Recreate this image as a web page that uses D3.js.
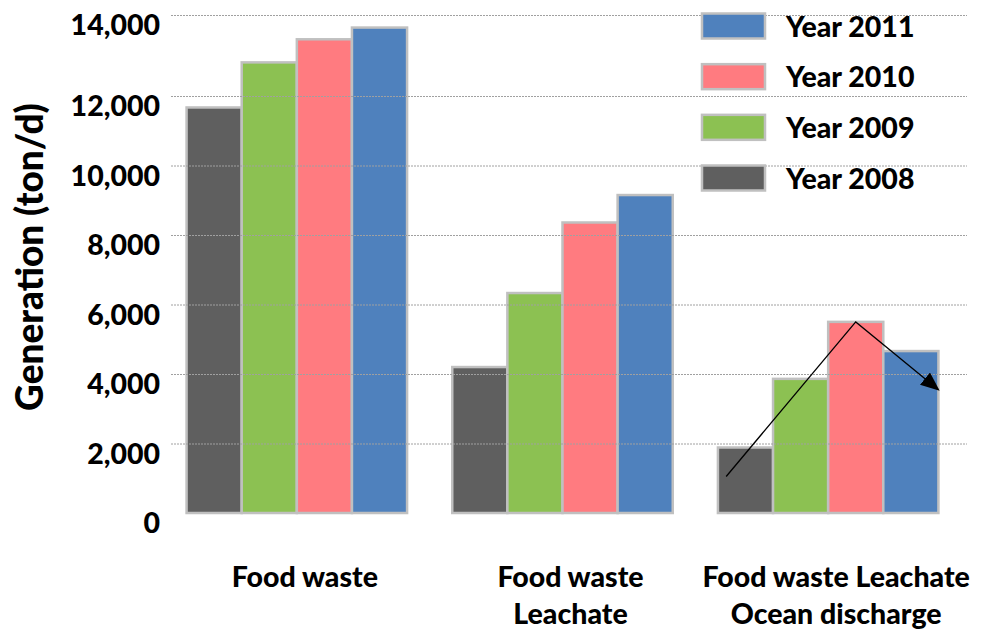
<!DOCTYPE html>
<html>
<head>
<meta charset="utf-8">
<script src="https://cdn.jsdelivr.net/npm/d3@7"></script>
<style>
  html, body { margin: 0; padding: 0; background: #ffffff; }
  svg { display: block; font-family: Lato, "Open Sans", sans-serif; font-weight: 900; }
</style>
</head>
<body>
<svg id="chart" width="984" height="629"></svg>
<script>
// ---- data ----
const categories = ["Food waste", "Food waste\nLeachate", "Food waste Leachate\nOcean discharge"];
const years = ["2008", "2009", "2010", "2011"];
const year2008 = [11670, 4200, 1885];
const year2009 = [12830, 6330, 3860];
const year2010 = [13400, 8360, 5500];
const year2011 = [13690, 9150, 4660];
const yTicks = [0, 2000, 4000, 6000, 8000, 10000, 12000, 14000];
const legendOrder = ["2011", "2010", "2009", "2008"];
// trend arrow on the third category: [year, fraction across the bar, value]
const arrowPts = [["2008", 0.15, 1050], ["2010", 0.5, 5500], ["2011", 1.0, 3550]];

const seriesValues = { "2008": year2008, "2009": year2009, "2010": year2010, "2011": year2011 };
const colors = { "2008": "#5f5f5f", "2009": "#8cc152", "2010": "#ff7b80", "2011": "#4f81bd" };

const svg = d3.select("#chart");
const FS = 28.5;

// ---- scales ----
const plotLeft = 171, plotRight = 967;
const x0 = d3.scaleBand().domain(categories).range([164, 961]).paddingInner(0.17).paddingOuter(0.085);
const x1 = d3.scaleBand().domain(years).range([0, x0.bandwidth()]).padding(0);
const y = d3.scaleLinear().domain([0, 12000, 14000]).range([513, 96, 15]);

// ---- bars ----
const rows = [];
categories.forEach((c, i) => years.forEach(yr => rows.push({ cat: c, year: yr, value: seriesValues[yr][i] })));

svg.append("g").selectAll("rect").data(rows).join("rect")
  .attr("x", d => x0(d.cat) + x1(d.year))
  .attr("y", d => y(d.value))
  .attr("width", x1.bandwidth())
  .attr("height", d => y(0) - y(d.value))
  .attr("fill", d => colors[d.year])
  .attr("stroke", "#c0c0c0")
  .attr("stroke-width", 2.5);

// ---- gridlines (drawn over bars) ----
svg.append("g").selectAll("line").data(yTicks.filter(t => t > 0)).join("line")
  .attr("x1", plotLeft).attr("x2", plotRight)
  .attr("y1", d => y(d) + 0.5).attr("y2", d => y(d) + 0.5)
  .attr("stroke", "#a0a0a0").attr("stroke-width", 1).attr("stroke-dasharray", "2,1");

// ---- y axis labels ----
const fmt = d3.format(",");
svg.append("g").selectAll("text").data(yTicks).join("text")
  .attr("x", 160).attr("y", d => y(d) + 20)
  .attr("text-anchor", "end")
  .attr("font-size", FS).attr("fill", "#000")
  .text(d => fmt(d));

// ---- y title ----
svg.append("text")
  .attr("transform", "translate(43,257) rotate(-90)")
  .attr("text-anchor", "middle")
  .attr("font-size", 37).attr("fill", "#000")
  .text("Generation (ton/d)");

// ---- category labels ----
const catG = svg.append("g").selectAll("text").data(categories).join("text")
  .attr("text-anchor", "middle").attr("font-size", FS).attr("fill", "#000")
  .attr("transform", d => `translate(${x0(d) + x0.bandwidth() / 2 + 8},587)`);
catG.selectAll("tspan").data(d => d.split("\n")).join("tspan")
  .attr("x", 0).attr("dy", (d, i) => i === 0 ? 0 : 37)
  .text(d => d);

// ---- legend ----
const legY = d3.scalePoint().domain(legendOrder).range([26, 178]);
const leg = svg.append("g").selectAll("g").data(legendOrder).join("g")
  .attr("transform", d => `translate(701,${legY(d)})`);
leg.append("rect")
  .attr("x", 1).attr("y", -12.5).attr("width", 63).attr("height", 25)
  .attr("fill", d => colors[d]).attr("stroke", "#c0c0c0").attr("stroke-width", 2.5);
leg.append("text")
  .attr("x", 85).attr("y", 10.5)
  .attr("font-size", FS).attr("fill", "#000")
  .text(d => "Year " + d);

// ---- trend arrow ----
const defs = svg.append("defs");
defs.append("marker").attr("id", "arrowhead")
  .attr("viewBox", "0 0 12 10").attr("refX", 11).attr("refY", 5)
  .attr("markerWidth", 19).attr("markerHeight", 16).attr("markerUnits", "userSpaceOnUse")
  .attr("orient", "auto")
  .append("path").attr("d", "M0,0 L12,5 L0,10 Z").attr("fill", "#000");

const cat3 = categories[2];
const line = d3.line()
  .x(d => x0(cat3) + x1(d[0]) + d[1] * x1.bandwidth())
  .y(d => y(d[2]));
svg.append("path").datum(arrowPts)
  .attr("d", line).attr("fill", "none").attr("stroke", "#000").attr("stroke-width", 1.3)
  .attr("marker-end", "url(#arrowhead)");
</script>
</body>
</html>
